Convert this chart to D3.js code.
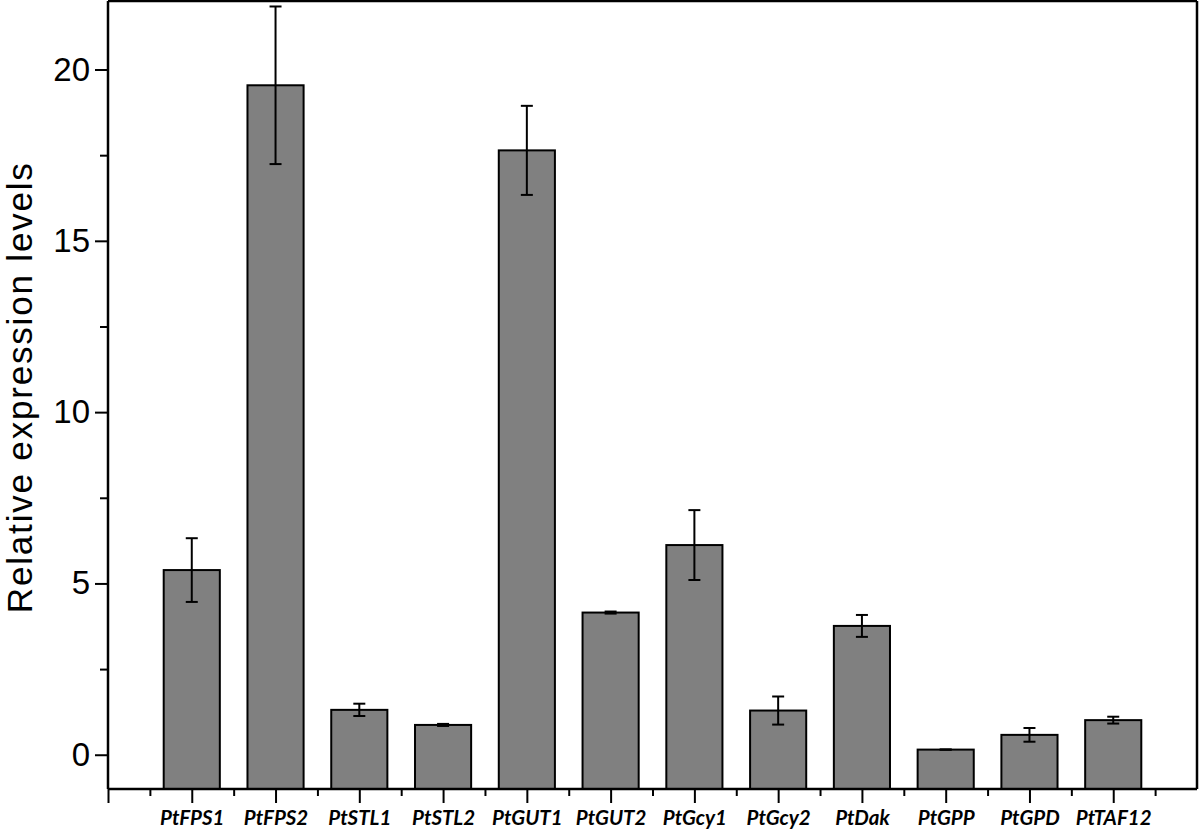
<!DOCTYPE html>
<html>
<head>
<meta charset="utf-8">
<script src="https://cdn.jsdelivr.net/npm/d3@7"></script>
<style>
  body { margin: 0; background: #fff; }
</style>
</head>
<body>
<div id="chart"></div>
<script>
// genes shown along the x axis
let genes = ["PtFPS1", "PtFPS2", "PtSTL1", "PtSTL2", "PtGUT1", "PtGUT2",
    "PtGcy1", "PtGcy2", "PtDak", "PtGPP", "PtGPD", "PtTAF12"];
// mean relative expression
let levels = [5.39, 19.54, 1.31, 0.87, 17.64, 4.15, 6.12, 1.29, 3.76, 0.15, 0.58, 1.01];
// standard error
let errors = [0.93, 2.30, 0.18, 0.03, 1.30, 0.03, 1.02, 0.41, 0.32, 0.0, 0.20, 0.10];
let yTicks = [0, 5, 10, 15, 20];
let yMinorTicks = [2.5, 7.5, 12.5, 17.5];

let W = 1200, H = 830;
let margin = {top: 1, right: 3, bottom: 41, left: 108},
    width = W - margin.left - margin.right,
    height = H - margin.top - margin.bottom;

let svg = d3.select("#chart").append("svg")
    .attr("width", W)
    .attr("height", H);

let g = svg.append("g")
    .attr("transform", "translate(" + margin.left + "," + margin.top + ")");

// x is a linear scale: category i sits at i+1, axis runs 0..13
let x = d3.scaleLinear().domain([0, genes.length + 1]).range([0, width]);
let y = d3.scaleLinear().domain([-1, 22]).range([height, 0]);

let barW = x(0.67) - x(0);

// bars
g.selectAll("rect.bar")
    .data(levels)
    .enter().append("rect")
    .attr("class", "bar")
    .attr("x", function (d, i) { return x(i + 1) - barW / 2; })
    .attr("y", function (d) { return y(d); })
    .attr("width", barW)
    .attr("height", function (d) { return y(-1) - y(d); })
    .style("fill", "#808080")
    .style("stroke", "#000")
    .style("stroke-width", 2);

// error bars
let capW = 6;
let eb = g.selectAll("g.err")
    .data(levels)
    .enter().append("g")
    .attr("class", "err")
    .style("stroke", "#000")
    .style("stroke-width", 2);
eb.append("line")
    .attr("x1", function (d, i) { return x(i + 1); })
    .attr("x2", function (d, i) { return x(i + 1); })
    .attr("y1", function (d, i) { return y(d + errors[i]); })
    .attr("y2", function (d, i) { return y(d - errors[i]); });
eb.append("line")
    .attr("x1", function (d, i) { return x(i + 1) - capW; })
    .attr("x2", function (d, i) { return x(i + 1) + capW; })
    .attr("y1", function (d, i) { return y(d + errors[i]); })
    .attr("y2", function (d, i) { return y(d + errors[i]); });
eb.append("line")
    .attr("x1", function (d, i) { return x(i + 1) - capW; })
    .attr("x2", function (d, i) { return x(i + 1) + capW; })
    .attr("y1", function (d, i) { return y(d - errors[i]); })
    .attr("y2", function (d, i) { return y(d - errors[i]); });

// y axis, major ticks with labels
let yAxisG = g.append("g")
    .call(d3.axisLeft(y).tickValues(yTicks).tickSize(13).tickPadding(5));
// y minor ticks
g.append("g")
    .call(d3.axisLeft(y).tickValues(yMinorTicks).tickSize(8).tickFormat(""))
    .select(".domain").remove();

// x axis, major ticks at categories, minor ticks between
let majorX = d3.range(0, genes.length + 1);
let minorX = d3.range(0.5, genes.length + 1, 1);
let xAxisG = g.append("g")
    .attr("transform", "translate(0," + height + ")")
    .call(d3.axisBottom(x).tickValues(majorX).tickSize(14)
        .tickFormat(function (d) { return d >= 1 && d <= genes.length ? genes[d - 1] : ""; })
        .tickPadding(7));
g.append("g")
    .attr("transform", "translate(0," + height + ")")
    .call(d3.axisBottom(x).tickValues(minorX).tickSize(7).tickFormat(""))
    .select(".domain").remove();

yAxisG.select(".domain").remove();
xAxisG.select(".domain").remove();

// frame: left, bottom, top, right
let frame = [[0, 0, 0, height], [0, width, height, height], [0, width, 0, 0], [width, width, 0, height]];
g.selectAll("line.frame")
    .data(frame)
    .enter().append("line")
    .attr("class", "frame")
    .attr("x1", function (d) { return d[0]; })
    .attr("x2", function (d) { return d[1]; })
    .attr("y1", function (d) { return d[2]; })
    .attr("y2", function (d) { return d[3]; })
    .style("stroke", "#000")
    .style("stroke-width", 2.5);

svg.selectAll(".tick line").style("stroke", "#000").style("stroke-width", 2);

yAxisG.selectAll("text")
    .style("font-family", "'Liberation Sans', Arial, sans-serif")
    .style("font-size", "33px")
    .style("fill", "#000");

xAxisG.selectAll("text")
    .style("font-family", "Lato, 'Open Sans', sans-serif")
    .style("font-weight", "bold")
    .style("font-style", "italic")
    .style("font-size", "20.5px")
    .style("fill", "#000");

// y axis title
g.append("text")
    .attr("transform", "rotate(-90)")
    .attr("x", 0 - y(10.7))
    .attr("y", 32 - margin.left)
    .attr("textLength", 450)
    .attr("lengthAdjust", "spacing")
    .style("text-anchor", "middle")
    .style("font-family", "'Liberation Sans', Arial, sans-serif")
    .style("font-size", "35px")
    .text("Relative expression levels");
</script>
</body>
</html>
